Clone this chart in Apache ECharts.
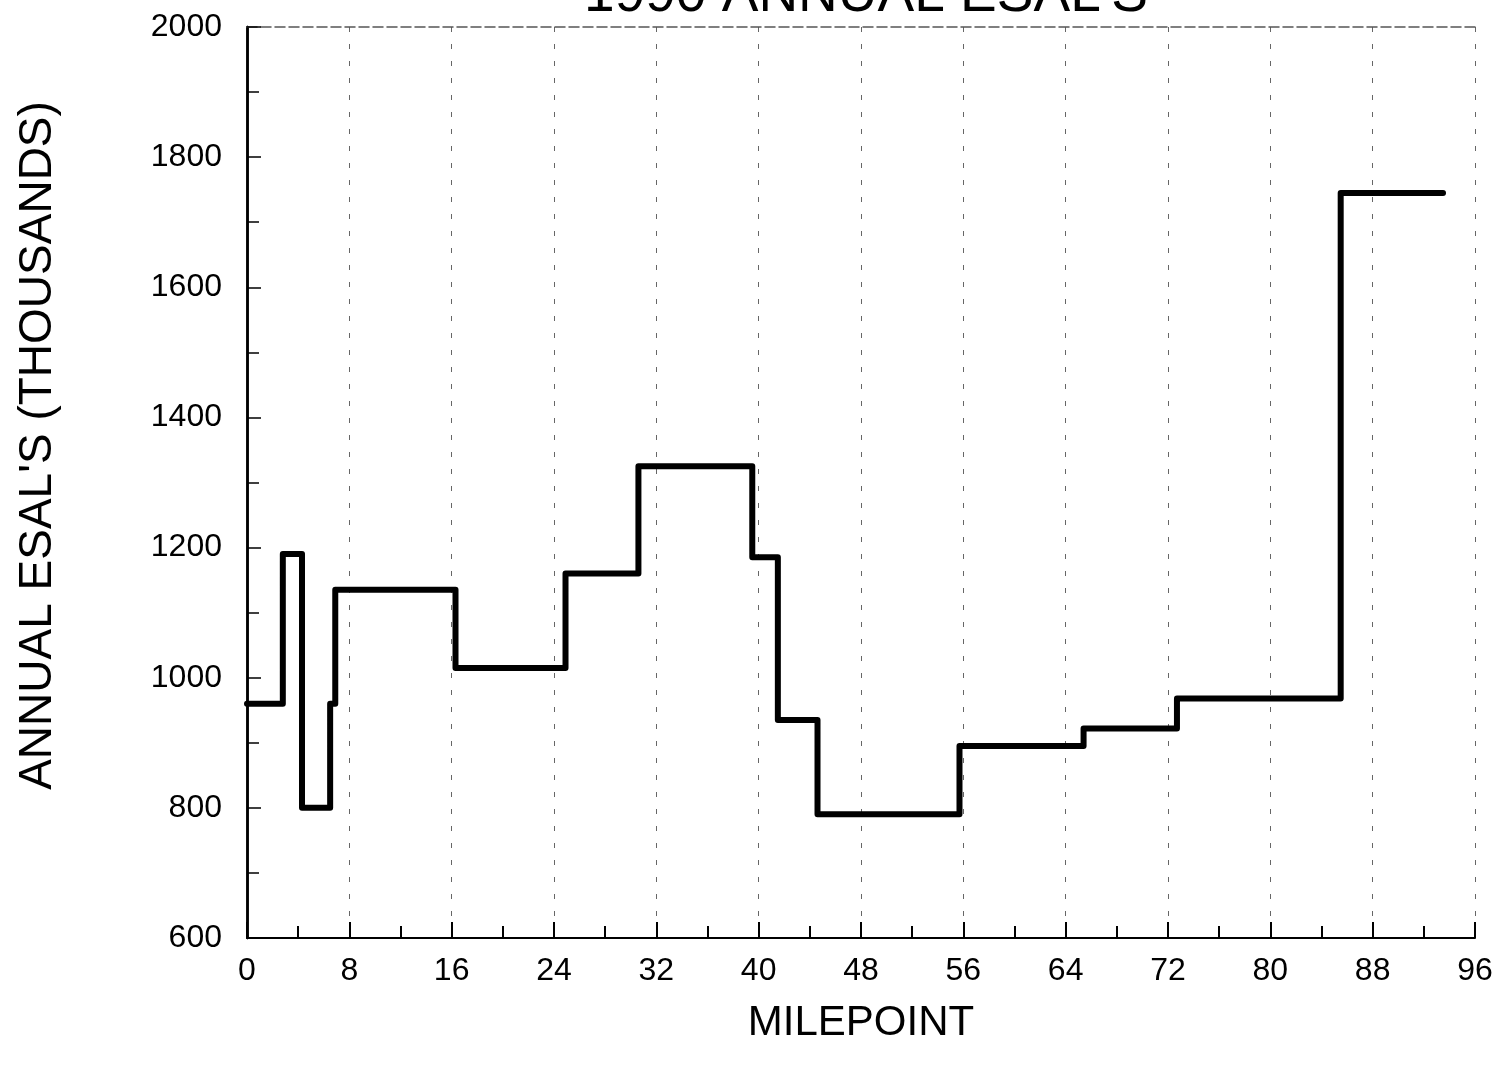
<!DOCTYPE html>
<html>
<head>
<meta charset="utf-8">
<script src="https://cdn.jsdelivr.net/npm/echarts@6/dist/echarts.min.js"></script>
<style>
html,body{margin:0;padding:0;background:#fff;}
#chart{width:1505px;height:1067px;}
</style>
</head>
<body>
<div id="chart"></div>
<script>
// Step breakpoints (milepoint where each level starts) and the level values (thousands of ESALs)
var mileStarts = [0, 2.8, 4.3, 6.5, 6.9, 16.3, 24.9, 30.6, 39.5, 41.5, 44.6, 55.7, 65.4, 72.7, 85.5];
var esalLevels = [960, 1190, 800, 960, 1135, 1015, 1160, 1325, 1185, 935, 790, 895, 922, 968, 1745];
var mileEnd = 93.5;

var titleText = "1990 ANNUAL ESAL'S";
var xTitle = "MILEPOINT";
var yTitle = "ANNUAL ESAL'S (THOUSANDS)";

var stepData = mileStarts.map(function (m, i) { return [m, esalLevels[i]]; });
stepData.push([mileEnd, esalLevels[esalLevels.length - 1]]);

var FONT = "Liberation Sans, Arial, sans-serif";
var plain = function (v) { return String(v); };
var chart = echarts.init(document.getElementById('chart'), null, {renderer: 'canvas'});
chart.setOption({
  backgroundColor: '#ffffff',
  animation: false,
  title: {
    text: titleText,
    left: 861, textAlign: 'center',
    top: -37,
    textStyle: {fontFamily: FONT, fontSize: 55, fontWeight: 'normal', color: '#000'}
  },
  grid: {left: 247, right: 30, top: 27, bottom: 129, containLabel: false},
  xAxis: [{
    type: 'value', min: 0, max: 96, interval: 8,
    name: xTitle, nameLocation: 'middle', nameGap: 64,
    nameTextStyle: {fontFamily: FONT, fontSize: 42, color: '#000'},
    axisLine: {show: true, onZero: false, lineStyle: {color: '#000', width: 2}},
    axisTick: {show: true, inside: true, length: 16, lineStyle: {color: '#000', width: 2}},
    minorTick: {show: true, splitNumber: 2, length: 12, lineStyle: {color: '#000', width: 2}},
    axisLabel: {fontFamily: FONT, fontSize: 32, color: '#000', margin: 17, formatter: plain},
    splitLine: {show: true, lineStyle: {color: '#666', width: 1, type: [5, 12]}}
  }, {
    type: 'value', min: 0, max: 96, position: 'top',
    axisLine: {show: true, lineStyle: {color: '#555', width: 1.5, type: [10, 4]}},
    axisTick: {show: false}, axisLabel: {show: false}, splitLine: {show: false}
  }],
  yAxis: [{
    type: 'value', min: 600, max: 2000, interval: 200,
    name: yTitle, nameLocation: 'middle', nameGap: 186, nameRotate: 90,
    nameTextStyle: {fontFamily: FONT, fontSize: 46, color: '#000', padding: [0, 0, 0, 74]},
    axisLine: {show: true, onZero: false, lineStyle: {color: '#000', width: 2.5}},
    axisTick: {show: true, inside: true, length: 14, lineStyle: {color: '#000', width: 1.5}},
    minorTick: {show: true, splitNumber: 2, length: 12, lineStyle: {color: '#000', width: 1.5}},
    axisLabel: {fontFamily: FONT, fontSize: 32, color: '#000', margin: 25, formatter: plain},
    splitLine: {show: false}
  }, {
    type: 'value', min: 600, max: 2000, position: 'right',
    axisLine: {show: true, lineStyle: {color: '#000', width: 2.5}},
    axisTick: {show: false}, axisLabel: {show: false}, splitLine: {show: false}
  }],
  series: [{
    type: 'line',
    step: 'end',
    data: stepData,
    symbol: 'none',
    lineStyle: {color: '#000', width: 6, join: 'round', cap: 'round'}
  }]
});
</script>
</body>
</html>
